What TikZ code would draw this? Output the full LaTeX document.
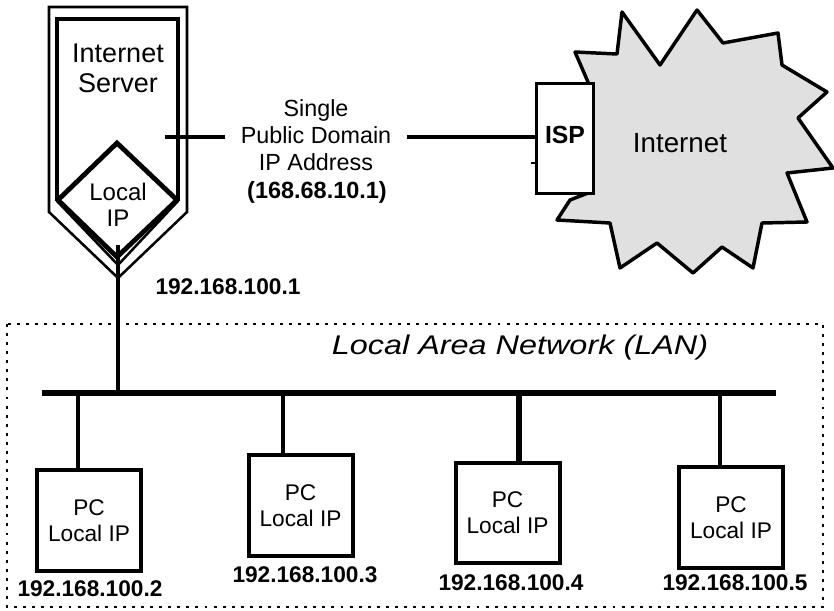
\documentclass[tikz,border=0pt]{standalone}
\usepackage{fontspec}
\setmainfont{Liberation Sans}
\definecolor{cloudgray}{RGB}{224,224,224}
\begin{document}
\begin{tikzpicture}[x=0.75pt,y=-0.75pt,
  thinln/.style={line width=1.9pt, line join=miter},
  thickln/.style={line width=3.6pt, line join=miter},
  wire/.style={line width=3pt},
  pcbox/.style={draw, line width=3pt, fill=white, inner sep=0pt,
    minimum width=78pt, minimum height=75.5pt,
    align=center, font=\fontsize{17}{19.5}\selectfont},
  iplabel/.style={font=\fontsize{17}{19}\selectfont\bfseries, inner sep=0pt},
  txt/.style={inner sep=0pt, align=center}]
\useasboundingbox (0,0) rectangle (834,610);

% ---------- LAN dotted frame ----------
\draw[line width=1.6pt, dash pattern=on 2.2pt off 4.6pt] (7,324) rectangle (823,607);
\node[txt, font=\fontsize{20.25}{24}\selectfont\itshape] (lan) at (520,348)
  {\scalebox{1.2}[1]{Local Area Network (LAN)}};

% ---------- Internet cloud ----------
\draw[line width=2.6pt, fill=cloudgray, line join=round]
  (588,82) -- (575,52) -- (617,54) -- (622,12) -- (660,65) -- (697,10)
  -- (723,43) -- (778,33) -- (782,65) -- (827,92) -- (798,118) -- (833,168)
  -- (787,173) -- (807,222) -- (762,223) -- (753,268) -- (722,247)
  -- (693,273) -- (657,243) -- (620,268) -- (610,223) -- (557,220)
  -- (570,200) -- (588,193) -- cycle;
\node[txt, font=\fontsize{20.8}{24}\selectfont] (inet) at (680,143) {Internet};

% ---------- ISP box ----------
\node[draw, line width=2.8pt, fill=white, minimum width=42.75pt, minimum height=82.5pt,
  inner sep=0pt] (isp) at (565,138.5) {};
\node[txt, font=\fontsize{18.6}{22}\selectfont\bfseries] (isptxt) at (565,135) {ISP};
\draw[line width=2.2pt] (531,163) -- (isp.west |- 0,163);

% ---------- Internet server shape ----------
\draw[thinln] (49,212) -- (49,7) -- (187,7) -- (187,212) -- (118,278) -- cycle;
\draw[thickln] (57,201) -- (57,19) -- (178,19) -- (178,201);
\draw[thinln] (57,201) -- (118,265) -- (178,201);
\draw[thickln] (117,143) -- (177,200) -- (117,257) -- (58,200) -- cycle;
\node[txt, font=\fontsize{20.25}{22.5}\selectfont] (srvtxt) at (118,68) {Internet\\Server};
\node[txt, font=\fontsize{18}{19.5}\selectfont] (liptxt) at (118,205) {Local\\IP};
\coordinate (srvport) at (165,137);
\coordinate (srvbottom) at (118,245);
\node[iplabel] (ip1) at (228,287) {192.168.100.1};

% ---------- public address link ----------
\node[txt, inner xsep=12pt, font=\fontsize{17.5}{20.5}\selectfont] (pub) at (316,135)
  {Single\\Public Domain\\IP Address};
\node[txt, font=\fontsize{17.6}{20}\selectfont\bfseries] (pubip) at (317,192) {(168.68.10.1)};
\draw[wire] (srvport) -- (pub.west |- srvport);
\draw[wire] (pub.east |- srvport) -- (isp.west |- srvport);

% ---------- LAN bus ----------
\coordinate (busL) at (42,393);
\coordinate (busR) at (776,393);
\draw[line width=4.5pt] (busL) -- (busR);
\draw[wire] (srvbottom) -- (srvbottom |- busL);

% ---------- PCs ----------
\node[pcbox] (pc1) at (89,520.5) {PC\\Local IP};
\node[pcbox] (pc2) at (300.5,505.5) {PC\\Local IP};
\node[pcbox] (pc3) at (507.5,513) {PC\\Local IP};
\node[pcbox] (pc4) at (731,517.5) {PC\\Local IP};

\coordinate (t1) at (78,393);
\coordinate (t2) at (283,393);
\coordinate (t3) at (519,393);
\coordinate (t4) at (720,393);
\draw[wire] (t1) -- (t1 |- pc1.north);
\draw[wire] (t2) -- (t2 |- pc2.north);
\draw[line width=3.8pt] (t3) -- (t3 |- pc3.north);
\draw[wire] (t4) -- (t4 |- pc4.north);

\node[iplabel] (ip2) at (90,589) {192.168.100.2};
\node[iplabel] (ip3) at (305,575) {192.168.100.3};
\node[iplabel] (ip4) at (511,583) {192.168.100.4};
\node[iplabel] (ip5) at (735,583) {192.168.100.5};
\end{tikzpicture}
\end{document}
